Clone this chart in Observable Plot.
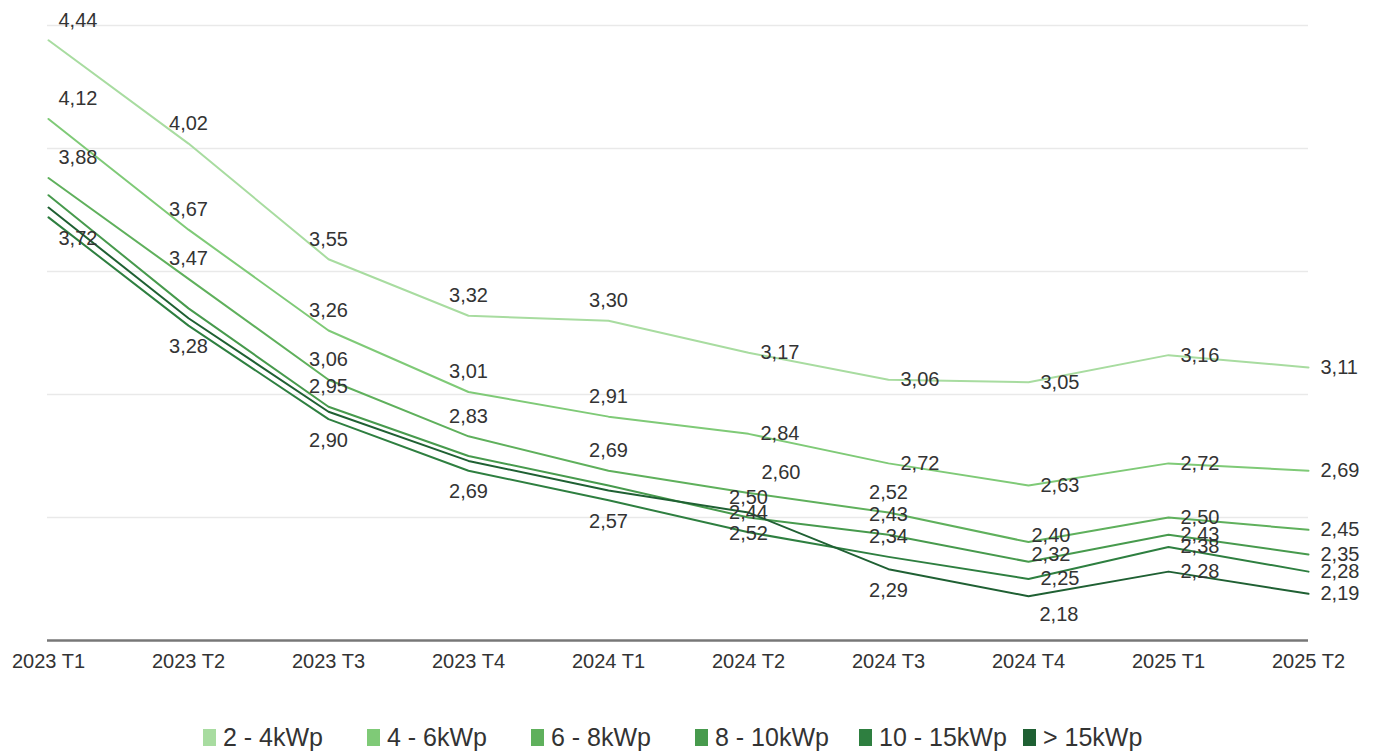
<!DOCTYPE html>
<html>
<head>
<meta charset="utf-8">
<script src="https://cdn.jsdelivr.net/npm/d3@7"></script>
<script src="https://cdn.jsdelivr.net/npm/@observablehq/plot@0.6"></script>
<style>
  html, body { margin: 0; padding: 0; background: #fff; }
  body { width: 1377px; height: 754px; overflow: hidden; font-family: "Liberation Sans", Arial, sans-serif; }
  #legend { display: flex; margin-left: 203px; margin-top: 32px; height: 30px; align-items: center; }
  .item { width: 164px; display: flex; align-items: center; font-size: 25px; color: #333; white-space: nowrap; }
  .sw { width: 13px; height: 17px; margin-right: 7px; flex: none; }
</style>
</head>
<body>
<div id="chart"></div>
<div id="legend"></div>
<script>
// Categories
const quarters = ["2023 T1", "2023 T2", "2023 T3", "2023 T4", "2024 T1", "2024 T2", "2024 T3", "2024 T4", "2025 T1", "2025 T2"];
const seriesNames = ["2 - 4kWp", "4 - 6kWp", "6 - 8kWp", "8 - 10kWp", "10 - 15kWp", "> 15kWp"];

// Series values
const v2to4   = [4.44, 4.02, 3.55, 3.32, 3.30, 3.17, 3.06, 3.05, 3.16, 3.11];
const v4to6   = [4.12, 3.67, 3.26, 3.01, 2.91, 2.84, 2.72, 2.63, 2.72, 2.69];
const v6to8   = [3.88, 3.47, 3.06, 2.83, 2.69, 2.60, 2.52, 2.40, 2.50, 2.45];
const v8to10  = [3.81, 3.35, 2.95, 2.75, 2.63, 2.50, 2.43, 2.32, 2.43, 2.35];
const v10to15 = [3.72, 3.28, 2.90, 2.69, 2.57, 2.44, 2.34, 2.25, 2.38, 2.28];
const vOver15 = [3.76, 3.31, 2.93, 2.73, 2.61, 2.52, 2.29, 2.18, 2.28, 2.19];
const seriesValues = [v2to4, v4to6, v6to8, v8to10, v10to15, vOver15];

// Gridline values
const gridValues = [2.5, 3, 3.5, 4, 4.5];

// Style: colours and label placement codes (one char per quarter, "." = hidden)
const colors = ["#a8dca0", "#7fca77", "#5fb05c", "#479a4d", "#2e7f40", "#1f6033"];
const placement = [
  "Faaaarrrrr",
  "Faaaarrrrr",
  "FaaaaRaurr",
  "..a..aaurr",
  "Gbbbbaarrr",
  ".....bbdrr"
];
const codes = {
  a: {textAnchor: "middle", dx: 0, dy: -20},
  b: {textAnchor: "middle", dx: 0, dy: 21},
  r: {textAnchor: "start", dx: 12, dy: 0},
  R: {textAnchor: "start", dx: 13, dy: -20},
  u: {textAnchor: "start", dx: 3, dy: -7},
  d: {textAnchor: "start", dx: 11, dy: 18},
  F: {textAnchor: "start", dx: 10, dy: -20},
  G: {textAnchor: "start", dx: 10, dy: 21}
};

const data = [];
seriesNames.forEach((s, i) => {
  quarters.forEach((q, j) => {
    data.push({s, q, v: seriesValues[i][j], p: placement[i][j]});
  });
});

const fmt = d => d.v.toFixed(2).replace(".", ",");

const labelMarks = Object.entries(codes).map(([k, o]) =>
  Plot.text(data.filter(d => d.p === k), {
    x: "q", y: "v", text: fmt,
    textAnchor: o.textAnchor, dx: o.dx, dy: o.dy,
    fill: "#333", fontSize: 20
  })
);

const chart = Plot.plot({
  width: 1377,
  height: 690,
  marginLeft: 47,
  marginRight: 69,
  marginTop: 25,
  marginBottom: 50,
  style: {fontFamily: "'Liberation Sans', Arial, sans-serif", fontSize: "20px", color: "#333", background: "#fff"},
  x: {type: "point", domain: quarters, padding: 0, label: null},
  y: {domain: [2, 4.5], axis: null},
  color: {domain: seriesNames, range: colors},
  marks: [
    Plot.ruleY(gridValues, {stroke: "#e9e9e9", strokeWidth: 1.5}),
    Plot.ruleY([2], {stroke: "#777", strokeWidth: 2.5}),
    Plot.axisX({tickSize: 0, tickPadding: 13, label: null, fontSize: 20, fill: "#333"}),
    Plot.line(data, {x: "q", y: "v", z: "s", stroke: "s", strokeWidth: 2}),
    ...labelMarks
  ]
});
document.getElementById("chart").appendChild(chart);

const legend = document.getElementById("legend");
seriesNames.forEach((s, i) => {
  const it = document.createElement("div");
  it.className = "item";
  const sw = document.createElement("span");
  sw.className = "sw";
  sw.style.background = colors[i];
  const tx = document.createElement("span");
  tx.textContent = s;
  it.appendChild(sw);
  it.appendChild(tx);
  legend.appendChild(it);
});
</script>
</body>
</html>
